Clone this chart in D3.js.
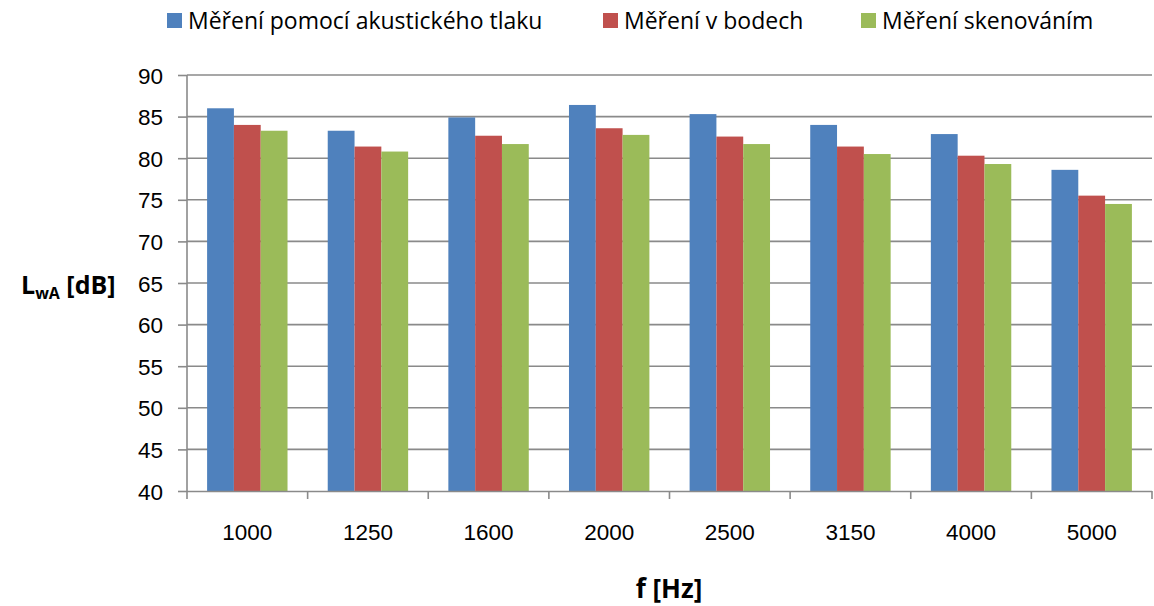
<!DOCTYPE html>
<html>
<head>
<meta charset="utf-8">
<script src="https://cdn.jsdelivr.net/npm/d3@7/dist/d3.min.js"></script>
<style>
  html, body { margin: 0; padding: 0; background: #fff; }
  svg { display: block; font-family: "Open Sans", "Liberation Sans", sans-serif; }
</style>
</head>
<body>
<svg id="chart" width="1154" height="606"></svg>
<script>
// Frequency bands (Hz)
const categories = ["1000", "1250", "1600", "2000", "2500", "3150", "4000", "5000"];
// Series names
const seriesNames = ["Měření pomocí akustického tlaku", "Měření v bodech", "Měření skenováním"];
// Sound power level LwA [dB] per band
const pressure = [86.0, 83.3, 84.9, 86.4, 85.3, 84.0, 82.9, 78.6];
const points   = [84.0, 81.4, 82.7, 83.6, 82.6, 81.4, 80.3, 75.5];
const scanning = [83.3, 80.8, 81.7, 82.8, 81.7, 80.5, 79.3, 74.5];
const yTicks = [40, 45, 50, 55, 60, 65, 70, 75, 80, 85, 90];
const colors = ["#4f81bd", "#c0504d", "#9bbb59"];

const seriesValues = [pressure, points, scanning];

const svg = d3.select("#chart");
const margin = { left: 187, right: 2, top: 75, bottom: 115 };
const W = 1154, H = 606;
const plotW = W - margin.left - margin.right;
const plotH = H - margin.top - margin.bottom;
const axisColor = "#8a8a8a";

const g = svg.append("g").attr("transform", `translate(${margin.left},${margin.top})`);

const x0 = d3.scaleBand().domain(categories).range([0, plotW]).paddingInner(1/3).paddingOuter(1/6);
const x1 = d3.scaleBand().domain(d3.range(seriesNames.length)).range([0, x0.bandwidth()]);
const y = d3.scaleLinear().domain([40, 90]).range([plotH, 0]);

// Horizontal gridlines
g.append("g").selectAll("line").data(yTicks.filter(t => t > 40)).join("line")
  .attr("x1", 0).attr("x2", plotW)
  .attr("y1", d => y(d)).attr("y2", d => y(d))
  .attr("stroke", axisColor).attr("stroke-width", 1.6);

// Bars
const groups = g.append("g").selectAll("g").data(categories).join("g")
  .attr("transform", d => `translate(${x0(d)},0)`);
groups.selectAll("rect")
  .data((d, i) => seriesValues.map((vals, s) => ({ s, v: vals[i] })))
  .join("rect")
  .attr("x", d => x1(d.s))
  .attr("width", x1.bandwidth())
  .attr("y", d => y(d.v))
  .attr("height", d => y(40) - y(d.v))
  .attr("fill", d => colors[d.s]);

// Y axis
const yAxis = d3.axisLeft(y).tickValues(yTicks).tickSize(9).tickPadding(15).tickFormat(d3.format("d"));
const ya = g.append("g").call(yAxis);
ya.select(".domain").attr("stroke", axisColor).attr("stroke-width", 1.6).attr("d", `M0,${plotH + 0.5}V0`);
ya.selectAll(".tick line").attr("stroke", axisColor).attr("stroke-width", 1.6);
ya.selectAll(".tick text").attr("font-size", 22.5).attr("fill", "#000").attr("dy", "0.36em");

// X axis
const xTickPos = categories.map(c => x0(c) - x0.step() * x0.paddingInner() / 2).concat([plotW]);
const xAxis = d3.axisBottom(x0).tickSize(0).tickPadding(33);
const xa = g.append("g").attr("transform", `translate(0,${plotH})`).call(xAxis);
xa.select(".domain").attr("stroke", axisColor).attr("stroke-width", 1.6).attr("d", `M0,0.5H${plotW}`);
xa.selectAll(".tick text").attr("font-size", 22.5).attr("fill", "#000");
xa.append("g").selectAll("line").data(xTickPos).join("line")
  .attr("x1", d => d).attr("x2", d => d).attr("y1", 0).attr("y2", 8)
  .attr("stroke", axisColor).attr("stroke-width", 1.6);

// Axis titles
svg.append("text").attr("x", 669).attr("y", 598).attr("text-anchor", "middle")
  .attr("font-size", 26).attr("font-weight", "bold").attr("fill", "#000").text("f [Hz]");
const yt = svg.append("text").attr("x", 21).attr("y", 294)
  .attr("font-size", 25).attr("font-weight", "bold").attr("fill", "#000");
yt.append("tspan").text("L");
yt.append("tspan").attr("font-size", 16).attr("dy", 5).text("wA");
yt.append("tspan").attr("dy", -5).text(" [dB]");

// Legend
const legendX = [167, 603, 861];
const legend = svg.append("g").selectAll("g").data(seriesNames).join("g")
  .attr("transform", (d, i) => `translate(${legendX[i]},13)`);
legend.append("rect").attr("width", 15).attr("height", 15).attr("fill", (d, i) => colors[i]);
legend.append("text").attr("x", 21).attr("y", 8).attr("dy", "0.36em")
  .attr("font-size", 23).attr("fill", "#000").text(d => d);
</script>
</body>
</html>
